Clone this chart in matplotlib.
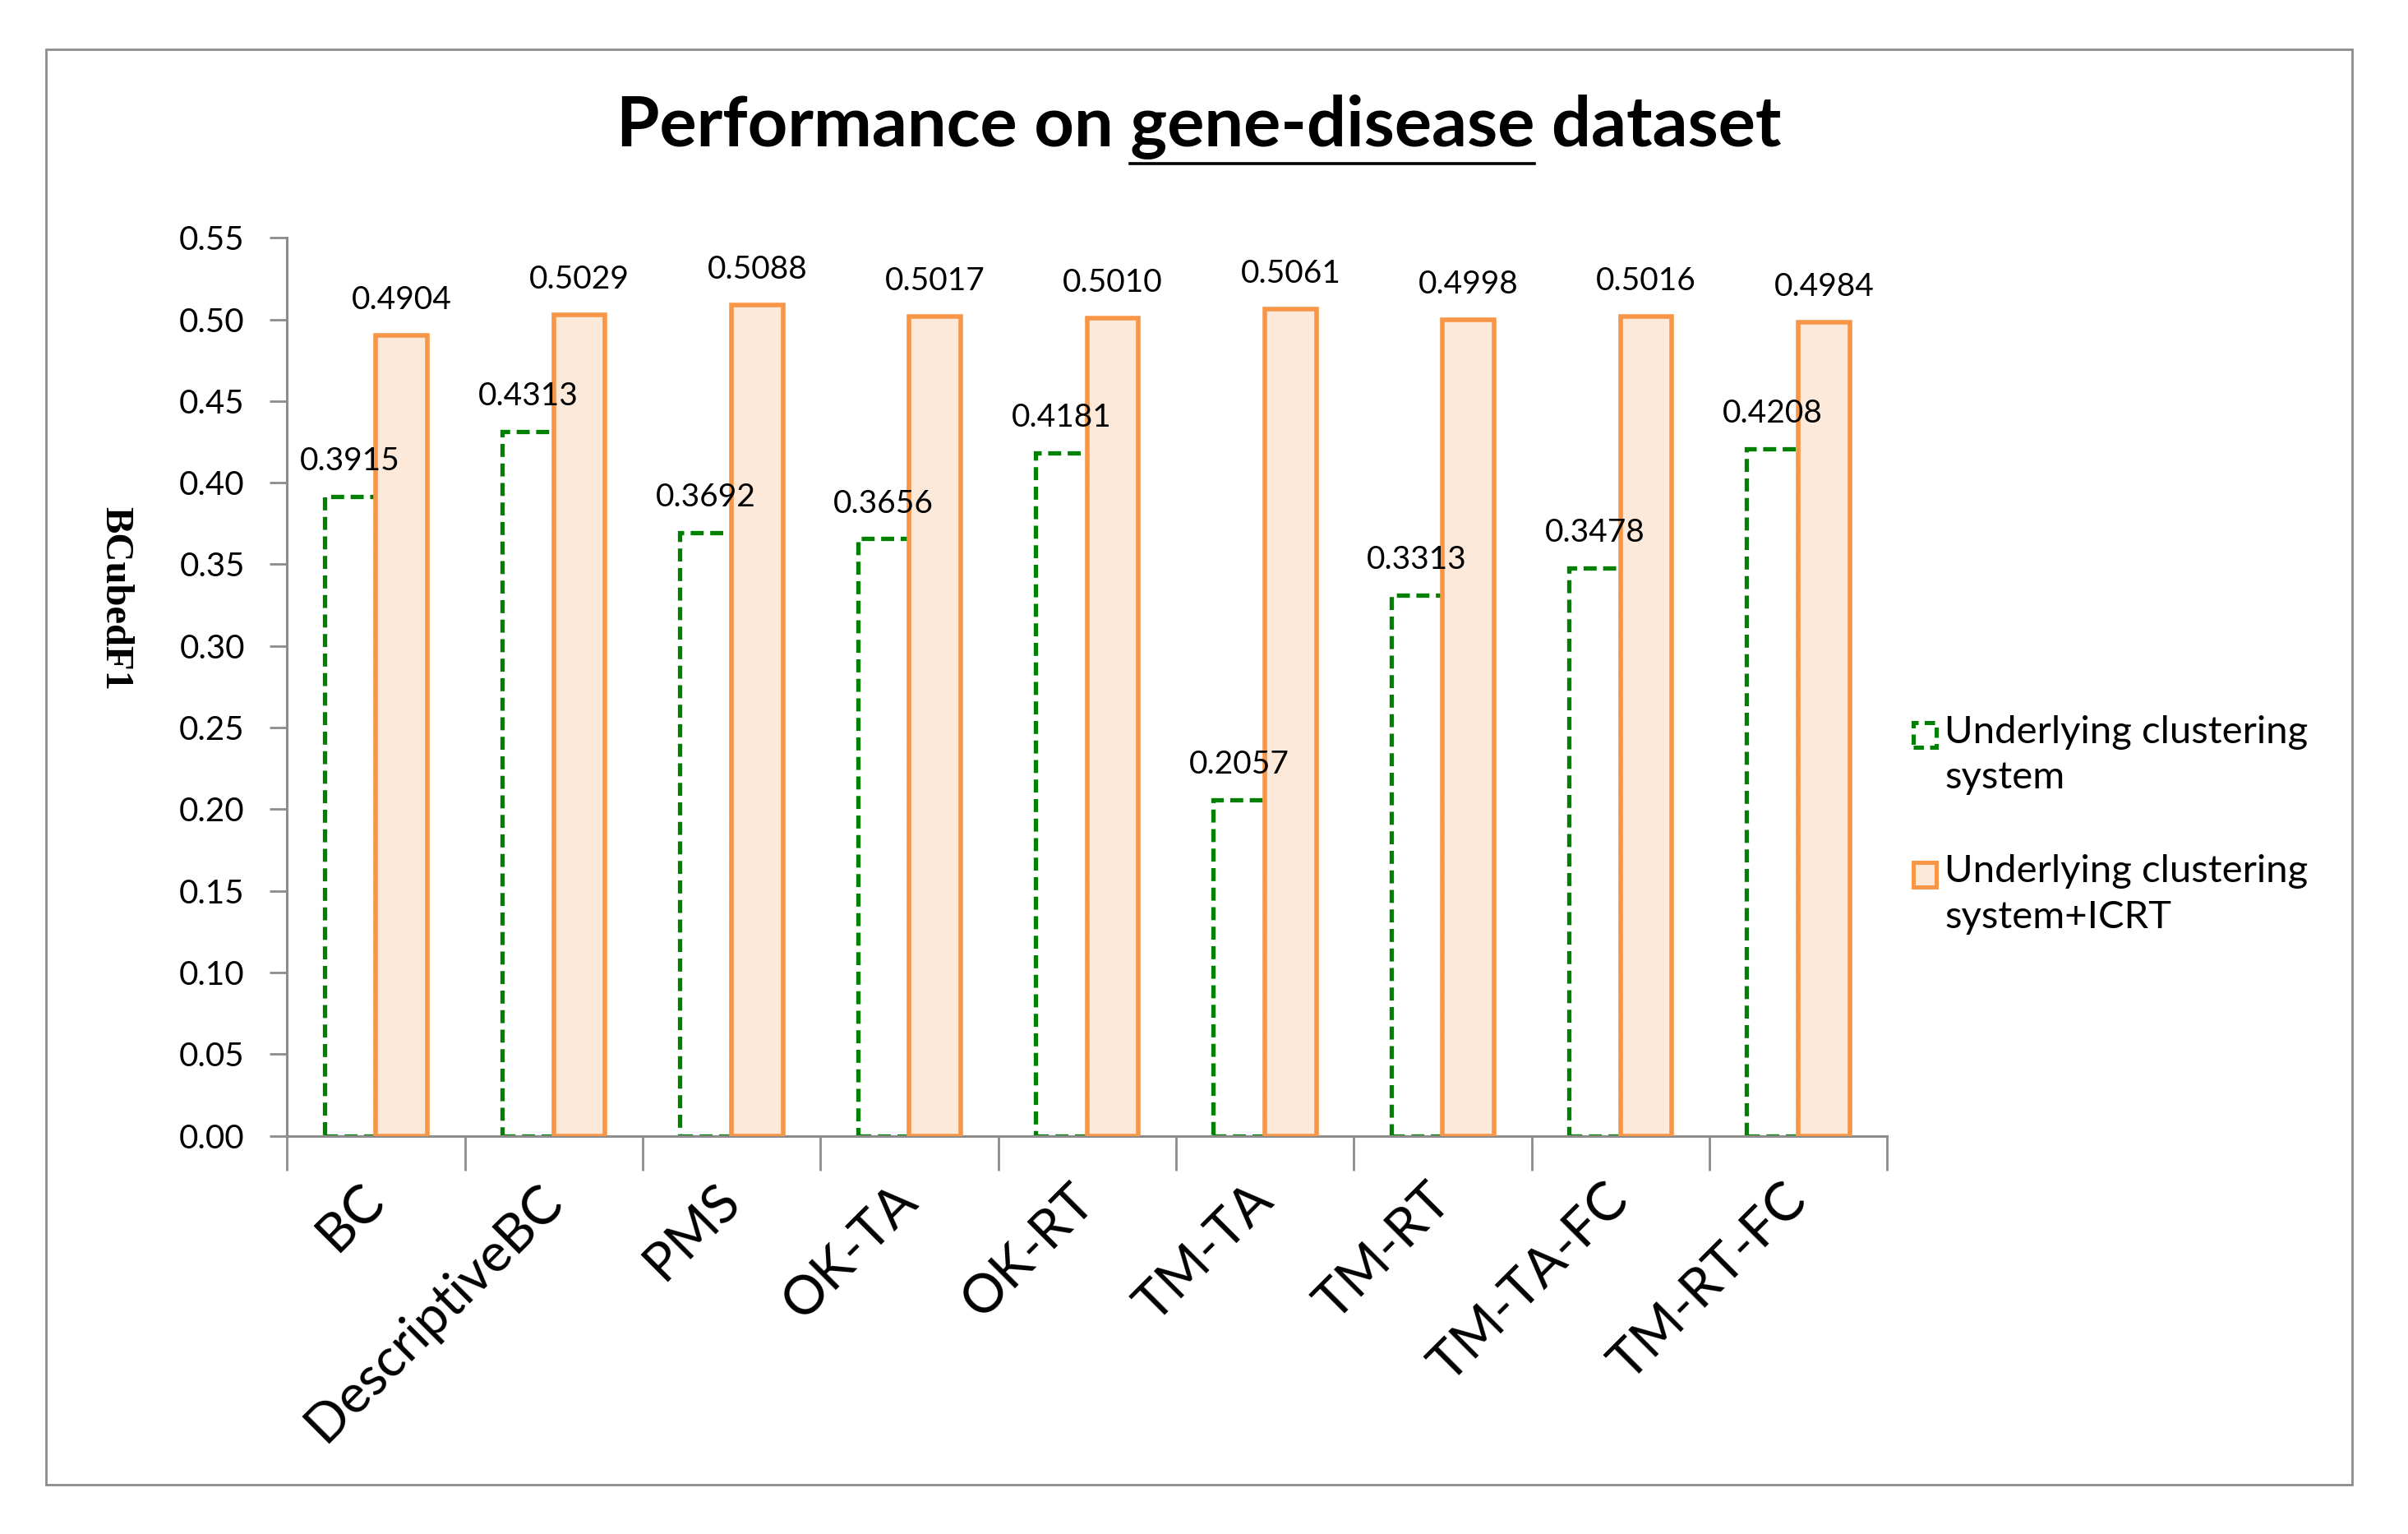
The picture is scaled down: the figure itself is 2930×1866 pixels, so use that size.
import matplotlib
matplotlib.use("Agg")
import matplotlib.pyplot as plt
import numpy as np
from matplotlib.patches import Rectangle
from matplotlib.lines import Line2D

# data
methods = ["BC", "DescriptiveBC", "PMS", "OK-TA", "OK-RT",
           "TM-TA", "TM-RT", "TM-TA-FC", "TM-RT-FC"]
base_f1 = [0.3915, 0.4313, 0.3692, 0.3656, 0.4181, 0.2057, 0.3313, 0.3478, 0.4208]
icrt_f1 = [0.4904, 0.5029, 0.5088, 0.5017, 0.5010, 0.5061, 0.4998, 0.5016, 0.4984]
y_ticks = [0.00, 0.05, 0.10, 0.15, 0.20, 0.25, 0.30, 0.35, 0.40, 0.45, 0.50, 0.55]
legend_labels = ["Underlying clustering\nsystem", "Underlying clustering\nsystem+ICRT"]

GREEN = "#008000"
ORANGE = "#F79646"
PEACH = "#FDE9D9"
GRAY = "#8C8C8C"
SANS = "Lato"

plt.rcParams['font.family'] = [SANS, 'DejaVu Sans']

fig = plt.figure(figsize=(29.3, 18.66), dpi=100)
ax = fig.add_axes([0.1192, 0.2596, 0.6645, 0.5854])

x = np.arange(len(methods))
w = 0.29

ax.bar(x - w / 2, base_f1, width=w, facecolor="white", edgecolor=GREEN,
       linewidth=3.8, linestyle=(0, (3, 1.5)), zorder=2)
ax.bar(x + w / 2, icrt_f1, width=w, facecolor=PEACH, edgecolor=ORANGE,
       linewidth=4, zorder=3)

for xi, v in zip(x, base_f1):
    ax.annotate(f"{v:.4f}", (xi - w / 2, v), xytext=(0, 23), textcoords="offset points",
                ha="center", va="baseline", fontsize=28, color="black")
for xi, v in zip(x, icrt_f1):
    ax.annotate(f"{v:.4f}", (xi + w / 2, v), xytext=(0, 23), textcoords="offset points",
                ha="center", va="baseline", fontsize=28, color="black")

ax.set_xlim(-0.5, len(methods) - 0.5)
ax.set_ylim(0, 0.55)
ax.set_yticks(y_ticks)
ax.set_yticklabels([f"{t:.2f}" for t in y_ticks], fontsize=29)

# boundary ticks on the category axis, labels centred between them
ax.set_xticks(np.arange(len(methods) + 1) - 0.5)
ax.set_xticklabels([])
ax.set_xticks(x, minor=True)
ax.set_xticklabels(methods, minor=True, rotation=45, ha="right", va="center",
                   rotation_mode="anchor", fontsize=47)
ax.tick_params(axis="x", which="major", length=30, width=2, color=GRAY, direction="out")
ax.tick_params(axis="x", which="minor", length=0, pad=50)
ax.tick_params(axis="y", length=15, width=2, color=GRAY, direction="out", pad=22)

for s in ["top", "right"]:
    ax.spines[s].set_visible(False)
for s in ["left", "bottom"]:
    ax.spines[s].set_color(GRAY)
    ax.spines[s].set_linewidth(2.2)

fig.text(0.048, 0.61, "BCubedF1", rotation=-90, ha="center", va="center",
         fontsize=35, fontweight="bold", family="Liberation Serif")

# title with underlined middle part
renderer = fig.canvas.get_renderer()
title = "Performance on gene-disease dataset"
TITLE_FS = 61
t = fig.text(0.4977, 0.905, title, ha="center", va="baseline", fontsize=TITLE_FS,
             fontweight="bold")
bb = t.get_window_extent(renderer)


def text_width(s):
    tmp = fig.text(0, 0, s, fontsize=TITLE_FS, fontweight="bold")
    wd = tmp.get_window_extent(renderer).width
    tmp.remove()
    return wd


end_px = bb.x0 + text_width("Performance on gene-disease")
start_px = end_px - text_width("gene-disease")
fw = fig.get_figwidth() * fig.dpi
fig.add_artist(Line2D([start_px / fw, end_px / fw], [0.8935, 0.8935],
                      color="black", linewidth=2.6, transform=fig.transFigure))

# legend drawn by hand so the swatch sits on the first text line
sw_w, sw_h = 28 / 2930, 30 / 1866
legend_y = [0.521, 0.430]
styles = [dict(facecolor="white", edgecolor=GREEN, linestyle=(0, (2.5, 1.5)), linewidth=3.6),
          dict(facecolor=PEACH, edgecolor=ORANGE, linewidth=3.6)]
for ly, lab, st in zip(legend_y, legend_labels, styles):
    fig.add_artist(Rectangle((0.7945, ly - sw_h / 2), sw_w, sw_h,
                             transform=fig.transFigure, **st))
    fig.text(0.8075, ly + 0.013, lab, ha="left", va="top", fontsize=34,
             linespacing=1.4)

# outer frame
fig.add_artist(Rectangle((0.0191, 0.032), 0.9577, 0.936, transform=fig.transFigure,
                         fill=False, edgecolor=GRAY, linewidth=2))

fig.savefig("out.png", dpi=100)
